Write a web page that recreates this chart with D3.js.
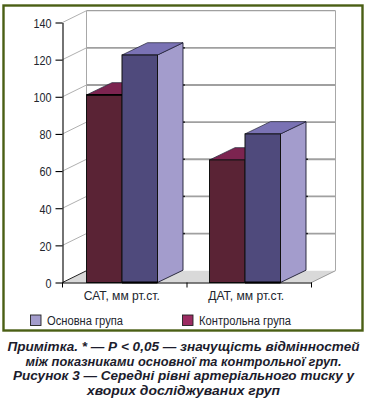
<!DOCTYPE html>
<html>
<head>
<meta charset="utf-8">
<script src="https://cdn.jsdelivr.net/npm/d3@7"></script>
<style>
  html, body { margin: 0; padding: 0; background: #fff; }
  svg { display: block; }
  text { font-family: "Liberation Sans", Arial, sans-serif; }
</style>
</head>
<body>
<div id="chart"></div>
<script>
const categories = ["САТ, мм рт.ст.", "ДАТ, мм рт.ст."];
const seriesNames = ["Контрольна група", "Основна група"];
const control = [101, 66];
const mainGroup = [122.5, 80];
const yTicks = [0, 20, 40, 60, 80, 100, 120, 140];
const legendNames = ["Основна група", "Контрольна група"];
const captionLines = [
  "Примітка. * — Р < 0,05 — значущість відмінностей",
  "між показниками основної та контрольної груп.",
  "Рисунок 3 — Середні рівні артеріального тиску у",
  "хворих досліджуваних груп"
];

const width = 367;
const height = 404;
const plotLeft = 62.5, plotRight = 311.5, plotBottom = 282.5, plotTop = 22.5;
const wallDx = 24, wallDy = 11.8;
const barDx = 25.5, barDy = 12.3;

const frontColors = ["#5a2335", "#4f4a7c"];
const topColors = ["#7c2450", "#7a72b4"];
const sideColor = "#a39ccc";

const svg = d3.select("#chart").append("svg")
  .attr("width", width)
  .attr("height", height);

// green frame
svg.append("rect")
  .attr("x", 3.5).attr("y", 5.5)
  .attr("width", 359).attr("height", 325)
  .attr("fill", "#fff")
  .attr("stroke", "#4a5f14")
  .attr("stroke-width", 2.4);

const x = d3.scaleBand().domain(categories).range([plotLeft, plotRight]);
const y = d3.scaleLinear().domain([0, 140]).range([plotBottom, plotTop]);

// floor
svg.append("path")
  .attr("d", `M${plotLeft},${plotBottom}L${plotLeft + wallDx},${plotBottom - wallDy}H${plotRight + wallDx}L${plotRight},${plotBottom}Z`)
  .attr("fill", "#d9d9d9");
svg.append("path")
  .attr("d", `M${plotRight},${plotBottom}L${plotRight + wallDx},${plotBottom - wallDy}`)
  .attr("fill", "none").attr("stroke", "#9a9a9a");
svg.append("line")
  .attr("x1", plotLeft).attr("y1", plotBottom)
  .attr("x2", plotLeft + wallDx).attr("y2", plotBottom - wallDy)
  .attr("stroke", "#222");

// walls and gridlines
svg.append("g").selectAll("line")
  .data(yTicks.slice(1))
  .join("line")
  .attr("x1", plotLeft).attr("y1", d => y(d))
  .attr("x2", plotLeft + wallDx).attr("y2", d => y(d) - wallDy)
  .attr("stroke", "#b0b0b0").attr("stroke-width", 1);

svg.append("g").selectAll("line")
  .data(yTicks.slice(1))
  .join("line")
  .attr("x1", plotLeft + wallDx).attr("y1", d => y(d) - wallDy)
  .attr("x2", plotRight + wallDx).attr("y2", d => y(d) - wallDy)
  .attr("stroke", "#a0a0a0")
  .attr("stroke-width", d => d === 140 ? 1.2 : 1.8);

svg.append("path")
  .attr("d", `M${plotLeft + wallDx},${y(0) - wallDy}V${y(140) - wallDy}M${plotRight + wallDx},${y(0) - wallDy}V${y(140) - wallDy}`)
  .attr("fill", "none").attr("stroke", "#a8a8a8").attr("stroke-width", 1);

// bars
const barW = 35.5;
const offsets = [24, 22.5];
const series = [control, mainGroup];

const bars = [];
series.forEach((vals, s) => {
  categories.forEach((c, i) => {
    bars.push({ s, i, v: vals[i], x0: x(c) + offsets[i] + s * barW });
  });
});

bars.filter(d => d.s === 1).forEach(d => {
  // short dark dashes where gridlines meet the side face
  svg.append("g").selectAll("line")
    .data(yTicks.filter(t => t > 0 && t < d.v))
    .join("line")
    .attr("x1", d.x0 + barW + barDx - 1).attr("x2", d.x0 + barW + barDx + 2)
    .attr("y1", t => y(t) - wallDy).attr("y2", t => y(t) - wallDy)
    .attr("stroke", "#222").attr("stroke-width", 1.4);
});

const g = svg.append("g");
bars.forEach(d => {
  const x0 = d.x0, x1 = d.x0 + barW, yt = y(d.v);
  if (d.s === 1) {
    g.append("path")
      .attr("d", `M${x1},${yt}L${x1 + barDx},${yt - barDy}V${plotBottom - barDy}L${x1},${plotBottom}Z`)
      .attr("fill", sideColor).attr("stroke", "#1c1c30").attr("stroke-width", 0.9);
  }
  g.append("path")
    .attr("d", `M${x0},${yt}L${x0 + barDx},${yt - barDy}H${x1 + barDx}L${x1},${yt}Z`)
    .attr("fill", topColors[d.s]).attr("stroke", "#1c1c30").attr("stroke-width", 0.7);
});
bars.forEach(d => {
  g.append("rect")
    .attr("x", d.x0).attr("y", y(d.v))
    .attr("width", barW).attr("height", plotBottom - y(d.v))
    .attr("fill", frontColors[d.s])
    .attr("stroke", "#111").attr("stroke-width", 1);
});
// heavier edges seen in the picture
bars.filter(d => d.s === 0 && d.i === 0).forEach(d => {
  g.append("line")
    .attr("x1", d.x0).attr("x2", d.x0 + barW)
    .attr("y1", y(d.v)).attr("y2", y(d.v))
    .attr("stroke", "#000").attr("stroke-width", 1.8);
});
bars.filter(d => d.s === 1).forEach(d => {
  g.append("line")
    .attr("x1", d.x0).attr("x2", d.x0 + barW)
    .attr("y1", plotBottom).attr("y2", plotBottom)
    .attr("stroke", "#000").attr("stroke-width", 1.8);
});

// axes
const yAxis = svg.append("g")
  .attr("transform", `translate(${plotLeft},0)`)
  .call(d3.axisLeft(y).tickValues(yTicks).tickSize(7).tickPadding(4).tickSizeOuter(0));
const xAxis = svg.append("g")
  .attr("transform", `translate(0,${plotBottom})`)
  .call(d3.axisBottom(x).tickSize(0).tickPadding(9).tickSizeOuter(0));
xAxis.selectAll(".xt").data(d3.range(categories.length + 1)).join("line")
  .attr("class", "xt")
  .attr("x1", i => plotLeft + i * x.step()).attr("x2", i => plotLeft + i * x.step())
  .attr("y1", 0).attr("y2", 5)
  .attr("stroke", "#000");

svg.selectAll(".domain").attr("stroke", "#000").attr("stroke-width", 1.1);
svg.selectAll(".tick line").attr("stroke", "#000").attr("stroke-width", 1.1);
yAxis.selectAll("text")
  .attr("font-size", 13.5).attr("fill", "#22262e").attr("dy", "0.36em")
  .attr("textLength", d => String(d).length * 6)
  .attr("lengthAdjust", "spacingAndGlyphs");
xAxis.selectAll("text")
  .attr("font-size", 12.5).attr("fill", "#22262e")
  .attr("dx", -3)
  .attr("textLength", 76).attr("lengthAdjust", "spacingAndGlyphs");

// legend
const legendX = [30.5, 182.5];
const legendFill = ["#a39ccc", "#9c2c62"];
const legend = svg.append("g").selectAll("g")
  .data(legendNames)
  .join("g")
  .attr("transform", (d, i) => `translate(${legendX[i]},315)`);
legend.append("rect")
  .attr("width", 10.5).attr("height", 10.5)
  .attr("fill", (d, i) => legendFill[i])
  .attr("stroke", "#222").attr("stroke-width", 0.9);
legend.append("text")
  .attr("x", 16.5).attr("y", 9.5)
  .attr("font-size", 12.5).attr("fill", "#22262e")
  .attr("textLength", (d, i) => i === 0 ? 76 : 92)
  .attr("lengthAdjust", "spacingAndGlyphs")
  .text(d => d);

// caption
svg.append("g").selectAll("text")
  .data(captionLines)
  .join("text")
  .attr("x", 183.5)
  .attr("y", (d, i) => 351 + i * 14.6)
  .attr("text-anchor", "middle")
  .attr("font-size", 12)
  .attr("font-weight", "bold")
  .attr("font-style", "italic")
  .attr("fill", "#1c1c2c")
  .attr("textLength", (d, i) => [352, 316, 341, 193][i])
  .attr("lengthAdjust", "spacingAndGlyphs")
  .text(d => d);
</script>
</body>
</html>
